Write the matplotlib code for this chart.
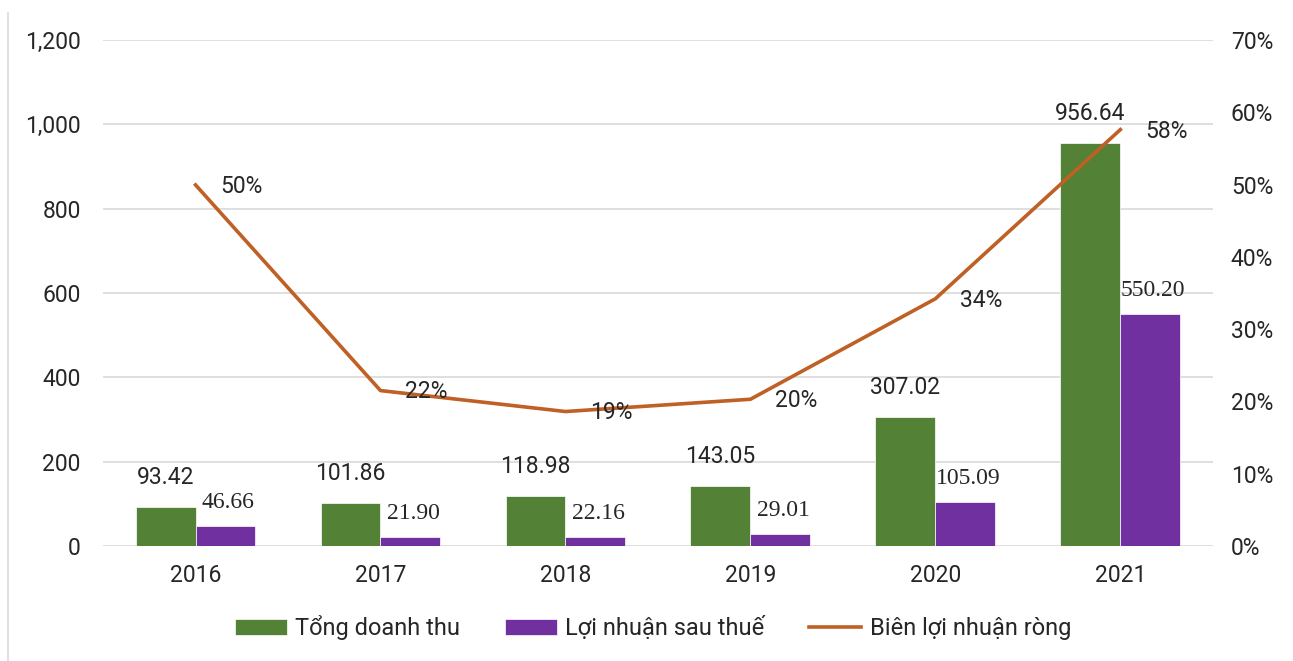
import matplotlib.pyplot as plt
import numpy as np
from matplotlib.lines import Line2D

plt.rcParams['font.family'] = ['Roboto', 'DejaVu Sans']

years = ['2016', '2017', '2018', '2019', '2020', '2021']
doanh_thu = [93.42, 101.86, 118.98, 143.05, 307.02, 956.64]
loi_nhuan = [46.66, 21.90, 22.16, 29.01, 105.09, 550.20]
bien_ln = [0.4995, 0.215, 0.186, 0.203, 0.342, 0.576]

green = '#538135'
purple = '#7030A0'
orange = '#BF6025'
grid = '#D9D9D9'
txt = '#262626'
fs = 16.5

fig = plt.figure(figsize=(12.93, 6.61), dpi=100)
ax = fig.add_axes([0.0797, 0.174, 0.8583, 0.7655])
ax2 = ax.twinx()

x = np.arange(len(years))
w = 0.324
b1 = ax.bar(x - w / 2, doanh_thu, w, color=green, edgecolor='white', linewidth=0.5,
            label='Tổng doanh thu', zorder=2)
b2 = ax.bar(x + w / 2, loi_nhuan, w, color=purple, edgecolor='white', linewidth=0.5,
            label='Lợi nhuận sau thuế', zorder=2)

for xi, v in zip(x, doanh_thu):
    ax.annotate(f'{v:,.2f}', (xi - w / 2, v), xytext=(0, 21), textcoords='offset points',
                ha='center', va='center', fontsize=fs, color=txt)
for xi, v in zip(x, loi_nhuan):
    ax.annotate(f'{v:,.2f}', (xi + w / 2, v), xytext=(2, 17), textcoords='offset points',
                ha='center', va='center', fontsize=17, color=txt, family='Liberation Serif')

ax.set_ylim(0, 1200)
ax.set_yticks(range(0, 1201, 200))
ax.set_yticklabels([f'{t:,}' for t in range(0, 1201, 200)])
ax.set_xlim(-0.5, 5.5)
ax.set_xticks(x)
ax.set_xticklabels(years)
ax.grid(axis='y', color=grid, linewidth=1.2, zorder=0)
ax.set_axisbelow(True)

ax2.plot(x, bien_ln, color=orange, linewidth=2.6, zorder=3)
for xi, v in zip(x, bien_ln):
    ax2.annotate(f'{v:.0%}', (xi, v), xytext=(33, -1), textcoords='offset points',
                 ha='center', va='center', fontsize=fs, color=txt)
ax2.set_ylim(0, 0.7)
ax2.set_yticks(np.arange(0, 0.71, 0.1))
ax2.set_yticklabels([f'{int(round(t * 100))}%' for t in np.arange(0, 0.71, 0.1)])

for a in (ax, ax2):
    for s in a.spines.values():
        s.set_visible(False)
    a.tick_params(length=0, labelsize=fs, colors=txt)
ax.tick_params(axis='y', pad=16)
ax.tick_params(axis='x', pad=13)
ax2.tick_params(axis='y', pad=13)

fig.add_artist(Line2D([0.0065, 0.0065], [0.0, 0.98], color=grid, linewidth=1.2))

handles = [b1, b2, Line2D([], [], color=orange, linewidth=2.6)]
labels = ['Tổng doanh thu', 'Lợi nhuận sau thuế', 'Biên lợi nhuận ròng']
fig.legend(handles, labels, loc='center', bbox_to_anchor=(0.505, 0.05), ncol=3,
           frameon=False, fontsize=17, handlelength=2.2, handleheight=0.7,
           columnspacing=1.9, handletextpad=0.35, labelcolor=txt)

fig.savefig('out.png', dpi=100)
